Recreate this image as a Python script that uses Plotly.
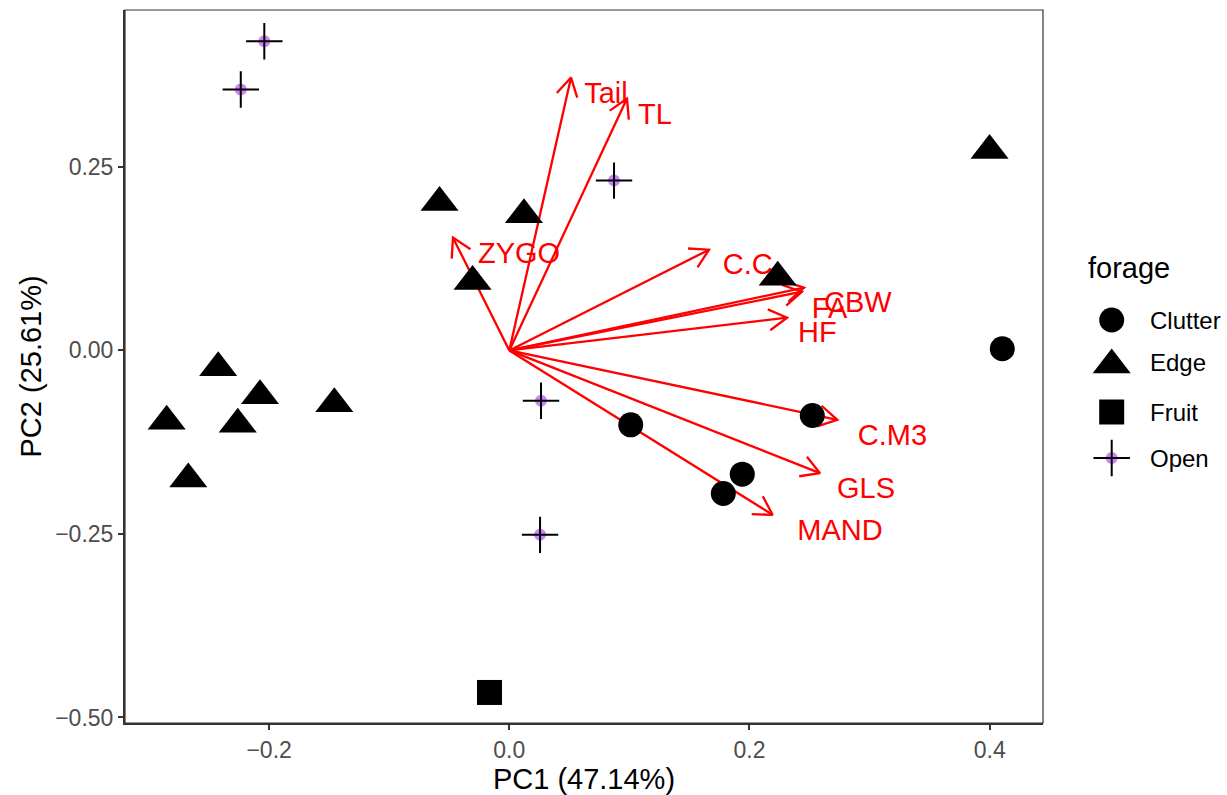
import numpy as np
import plotly.graph_objects as go

# ---------------- data ----------------
clutter_x = [0.4105, 0.2523, 0.1011, 0.1940, 0.1782]
clutter_y = [0.0023, -0.0886, -0.1013, -0.1685, -0.1949]

edge_x = [-0.0581, 0.0122, -0.0306, 0.2235, 0.3999, -0.2424, -0.2076, -0.1457, -0.2853, -0.2261, -0.2673]
edge_y = [0.2015, 0.1848, 0.0939, 0.0997, 0.2722, -0.0236, -0.0617, -0.0726, -0.0964, -0.1005, -0.1750]

fruit_x = [-0.0165]
fruit_y = [-0.4659]

open_x = [-0.2040, -0.2236, 0.0872, 0.0264, 0.0256]
open_y = [0.4212, 0.3554, 0.2313, -0.0686, -0.2512]

var_names = ["Tail", "TL", "ZYGO", "C.C", "CBW", "FA", "HF", "C.M3", "GLS", "MAND"]
load_x = [0.0514, 0.0980, -0.0469, 0.1663, 0.2454, 0.2437, 0.2313, 0.2731, 0.2587, 0.2193]
load_y = [0.3717, 0.3430, 0.1536, 0.1372, 0.0855, 0.0800, 0.0446, -0.0945, -0.1672, -0.2240]
label_x = [0.0805, 0.1213, 0.0081, 0.1986, 0.2902, 0.2667, 0.2566, 0.3191, 0.2970, 0.2754]
label_y = [0.3472, 0.3186, 0.1291, 0.1141, 0.0616, 0.0541, 0.0207, -0.1183, -0.1913, -0.2481]

forage_levels = ["Clutter", "Edge", "Fruit", "Open"]

x_tickvals = [-0.2, 0.0, 0.2, 0.4]
x_ticktext = ["\u22120.2", "0.0", "0.2", "0.4"]
y_tickvals = [0.25, 0.0, -0.25, -0.5]
y_ticktext = ["0.25", "0.00", "\u22120.25", "\u22120.50"]

x_title = "PC1 (47.14%)"
y_title = "PC2 (25.61%)"

# ---------------- layout constants ----------------
W, H = 1227, 795
M_L, M_R, M_T, M_B = 125, 10, 10, 72
PLOT_W = 918
XR = [-0.320, 0.4444]
YR = [-0.5075, 0.4637]
FONT = "Liberation Sans, Arial, sans-serif"
paper_w = W - M_L - M_R
paper_h = H - M_T - M_B
x_dom_end = PLOT_W / paper_w

px_x = PLOT_W / (XR[1] - XR[0])
px_y = paper_h / (YR[1] - YR[0])

# ---------------- arrows (shaft + open head) ----------------
head_len = 21.0
head_ang = np.deg2rad(30)
ax_, ay_ = [], []
for tx, ty in zip(load_x, load_y):
    ax_ += [0.0, tx, None]
    dxp, dyp = tx * px_x, ty * px_y
    n = np.hypot(dxp, dyp)
    ux, uy = -dxp / n, -dyp / n
    arms = []
    for s in (1, -1):
        c, si = np.cos(s * head_ang), np.sin(s * head_ang)
        rx, ry = ux * c - uy * si, ux * si + uy * c
        arms.append((tx + rx * head_len / px_x, ty + ry * head_len / px_y))
    ax_ += [arms[0][0], tx, arms[1][0], None]
    ay_.extend([0.0, ty, None, arms[0][1], ty, arms[1][1], None])

fig = go.Figure()

fig.add_trace(go.Scatter(x=ax_, y=ay_, mode="lines",
                         line=dict(color="#FF0000", width=2.3),
                         hoverinfo="skip", showlegend=False))

fig.add_trace(go.Scatter(x=label_x, y=label_y, mode="text", text=var_names,
                         textposition="middle center",
                         textfont=dict(color="#FF0000", size=29, family=FONT),
                         hoverinfo="skip", showlegend=False))

# ---------------- points ----------------
fig.add_trace(go.Scatter(x=clutter_x, y=clutter_y, mode="markers", name="Clutter",
                         marker=dict(symbol="circle", size=25, color="black"),
                         showlegend=False))
fig.add_trace(go.Scatter(x=edge_x, y=edge_y, mode="markers", name="Edge",
                         marker=dict(symbol="triangle-up", size=33, color="black"),
                         showlegend=False))
fig.add_trace(go.Scatter(x=fruit_x, y=fruit_y, mode="markers", name="Fruit",
                         marker=dict(symbol="square", size=25, color="black"),
                         showlegend=False))
fig.add_trace(go.Scatter(x=open_x, y=open_y, mode="markers", name="Open",
                         marker=dict(symbol="circle", size=12, color="rgba(160,32,240,0.55)"),
                         showlegend=False))
fig.add_trace(go.Scatter(x=open_x, y=open_y, mode="markers", name="Open",
                         marker=dict(symbol="cross-thin", size=26,
                                     line=dict(color="black", width=2)),
                         showlegend=False))

# ---------------- custom legend (own axis in pixel units) ----------------
leg_x_range = [M_L + 955, M_L + paper_w]
key_x = 1111.7
key_y = [320, 362, 412, 458]
key_sym = ["circle", "triangle-up", "square", None]
key_size = [25, 33, 25, None]
for lvl, ky, sym, sz in zip(forage_levels, key_y, key_sym, key_size):
    if sym is not None:
        yy = ky + 3 if sym == "triangle-up" else ky
        fig.add_trace(go.Scatter(x=[key_x], y=[yy], mode="markers", xaxis="x2", yaxis="y2",
                                 marker=dict(symbol=sym, size=sz, color="black"),
                                 hoverinfo="skip", showlegend=False))
    else:
        fig.add_trace(go.Scatter(x=[key_x], y=[ky], mode="markers", xaxis="x2", yaxis="y2",
                                 marker=dict(symbol="circle", size=12, color="rgba(160,32,240,0.55)"),
                                 hoverinfo="skip", showlegend=False))
        fig.add_trace(go.Scatter(x=[key_x], y=[ky], mode="markers", xaxis="x2", yaxis="y2",
                                 marker=dict(symbol="cross-thin", size=26,
                                             line=dict(color="black", width=2)),
                                 hoverinfo="skip", showlegend=False))
    fig.add_annotation(x=1148, y=ky, xref="x2", yref="y2", text=lvl, showarrow=False,
                       xanchor="left", yanchor="middle",
                       font=dict(size=24, color="black", family=FONT))

fig.add_annotation(x=1086, y=268, xref="x2", yref="y2", text="forage", showarrow=False,
                   xanchor="left", yanchor="middle",
                   font=dict(size=29, color="black", family=FONT))

# y-axis title as rotated annotation (to match position)
fig.add_annotation(x=(30 - M_L) / paper_w, y=0.5, xref="paper", yref="paper",
                   text=y_title, textangle=-90, showarrow=False,
                   xanchor="center", yanchor="middle",
                   font=dict(size=29, color="black", family=FONT))

fig.update_layout(
    width=W, height=H,
    margin=dict(l=M_L, r=M_R, t=M_T, b=M_B),
    paper_bgcolor="white", plot_bgcolor="white",
    font=dict(family=FONT),
    xaxis=dict(domain=[0, x_dom_end], range=XR, showgrid=False, zeroline=False,
               automargin=False,
               tickmode="array", tickvals=x_tickvals, ticktext=x_ticktext,
               ticks="outside", ticklen=5, tickwidth=2, tickcolor="#333333",
               showline=True, linecolor="#333333", linewidth=2,
               tickfont=dict(size=23, color="#4D4D4D", family=FONT),
               title=dict(text=x_title, font=dict(size=29, color="black", family=FONT))),
    yaxis=dict(domain=[0, 1], range=YR, showgrid=False, zeroline=False,
               automargin=False,
               tickmode="array", tickvals=y_tickvals, ticktext=y_ticktext,
               ticks="outside", ticklen=5, tickwidth=2, tickcolor="#333333",
               showline=True, linecolor="#333333", linewidth=2,
               tickfont=dict(size=23, color="#4D4D4D", family=FONT)),
    xaxis2=dict(domain=[955 / paper_w, 1], range=leg_x_range, visible=False,
                anchor="y2", fixedrange=True),
    yaxis2=dict(domain=[0, 1], range=[M_T + paper_h, M_T], visible=False,
                anchor="x2", fixedrange=True),
    shapes=[dict(type="rect", xref="x domain", yref="y domain", x0=0, x1=1, y0=0, y1=1,
                 line=dict(color="#333333", width=1.2), layer="above")],
)

fig.write_html("out.html")
